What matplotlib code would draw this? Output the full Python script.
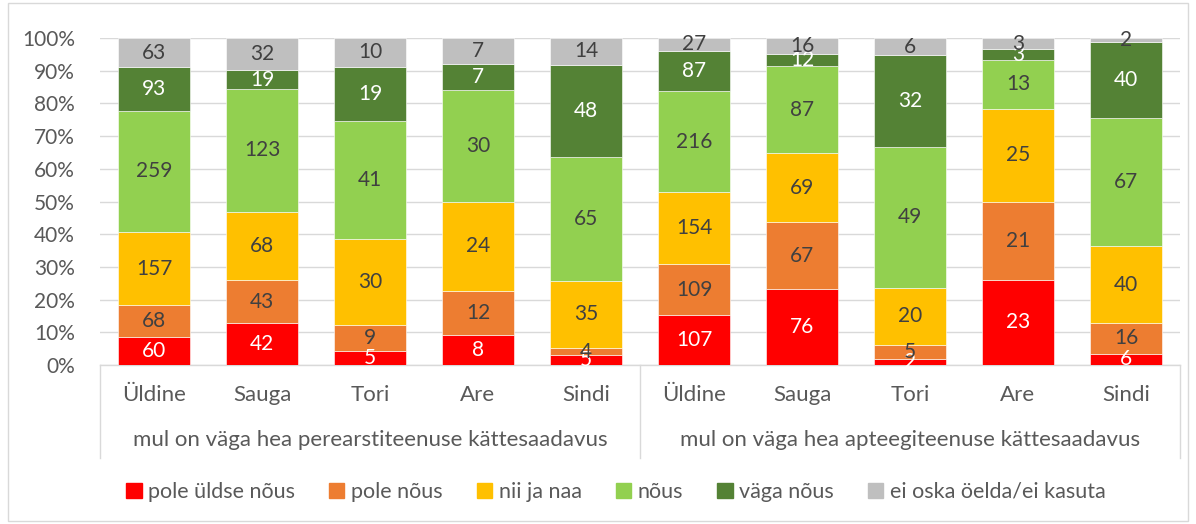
import matplotlib
matplotlib.use("Agg")
import matplotlib.pyplot as plt
from matplotlib.patches import Patch, Rectangle
from matplotlib.lines import Line2D
import numpy as np

plt.rcParams['font.family'] = ['Lato', 'DejaVu Sans']

categories = ["Üldine", "Sauga", "Tori", "Are", "Sindi",
              "Üldine", "Sauga", "Tori", "Are", "Sindi"]
groups = ["mul on väga hea perearstiteenuse kättesaadavus",
          "mul on väga hea apteegiteenuse kättesaadavus"]
series_names = ["pole üldse nõus", "pole nõus", "nii ja naa", "nõus",
                "väga nõus", "ei oska öelda/ei kasuta"]

pole_yldse_nous = [60, 42, 5, 8, 5, 107, 76, 2, 23, 6]
pole_nous = [68, 43, 9, 12, 4, 109, 67, 5, 21, 16]
nii_ja_naa = [157, 68, 30, 24, 35, 154, 69, 20, 25, 40]
nous = [259, 123, 41, 30, 65, 216, 87, 49, 13, 67]
vaga_nous = [93, 19, 19, 7, 48, 87, 12, 32, 3, 40]
ei_oska = [63, 32, 10, 7, 14, 27, 16, 6, 3, 2]

series = [pole_yldse_nous, pole_nous, nii_ja_naa, nous, vaga_nous, ei_oska]
colors = ["#FF0000", "#ED7D31", "#FFC000", "#92D050", "#548235", "#BFBFBF"]
text_colors = ["white", "#404040", "#404040", "#404040", "white", "#404040"]

data = np.array(series, dtype=float)
totals = data.sum(axis=0)
pct = data / totals * 100

fig = plt.figure(figsize=(11.96, 5.24), dpi=100)
ax = fig.add_axes([100/1196, 1-365/524, 1080/1196, 327/524])

x = np.arange(len(categories))
bottom = np.zeros(len(categories))
for i in range(len(series)):
    ax.bar(x, pct[i], bottom=bottom, width=0.667, color=colors[i],
           edgecolor='white', linewidth=0.4, zorder=3)
    for j in range(len(categories)):
        ax.text(x[j], bottom[j] + pct[i][j] / 2, str(int(data[i][j])),
                ha='center', va='center', fontsize=15, color=text_colors[i],
                zorder=4)
    bottom += pct[i]

ax.set_xlim(-0.5, len(categories) - 0.5)
ax.set_ylim(0, 100)
ax.set_yticks(np.arange(0, 101, 10))
ax.set_yticklabels([f"{v}%" for v in range(0, 101, 10)])
ax.tick_params(axis='y', length=0, labelsize=15, labelcolor='#595959', pad=18)
ax.set_xticks([])
ax.grid(axis='y', color='#D9D9D9', linewidth=1, zorder=0)
for s in ['left', 'right', 'top']:
    ax.spines[s].set_visible(False)
ax.spines['bottom'].set_color('#D9D9D9')
ax.spines['bottom'].set_linewidth(1)

n = len(categories)
sep_depth = (458 - 365) / 327
for xs in [-0.5, n / 2 - 0.5, n - 0.5]:
    ax.add_line(Line2D([xs, xs], [0, -sep_depth * 100], color='#D9D9D9',
                       linewidth=1, clip_on=False))

for j, c in enumerate(categories):
    ax.text(x[j], -(395 - 365) / 327 * 100, c, ha='center', va='center',
            fontsize=16, color='#595959')
for g, name in enumerate(groups):
    ax.text(g * n / 2 + n / 4 - 0.5, -(440 - 365) / 327 * 100, name,
            ha='center', va='center', fontsize=16, color='#595959')

handles = [Patch(facecolor=c, edgecolor=c) for c in colors]
fig.legend(handles, series_names, loc='center', bbox_to_anchor=(0.515, 1 - 492/524),
           ncol=6, frameon=False, fontsize=15.5, handlelength=0.7, handleheight=0.7,
           handletextpad=0.3, columnspacing=1.6, labelcolor='#595959')

fig.patches.append(Rectangle((8/1196, 3/524), 1 - 16/1196, 1 - 6/524,
                             transform=fig.transFigure, fill=False,
                             edgecolor='#D9D9D9', linewidth=1))

fig.savefig("out.png", dpi=100)
